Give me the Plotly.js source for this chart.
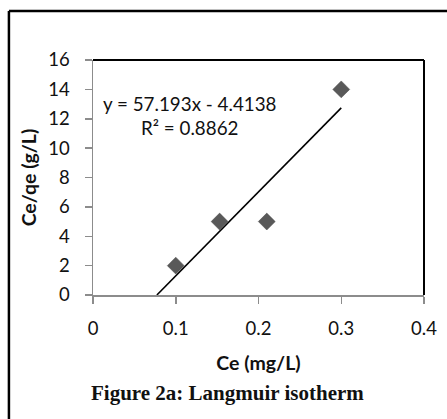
<!DOCTYPE html>
<html>
<head>
<meta charset="utf-8">
<script src="https://cdn.plot.ly/plotly-3.0.1.min.js"></script>
<style>html,body{margin:0;padding:0;background:#fff;}#chart{width:447px;height:419px;}</style>
</head>
<body>
<div id="chart"></div>
<script>
const ceValues = [0.1, 0.153, 0.21, 0.3];
const ceQeValues = [2, 5, 5, 14];
const slope = 57.193;
const intercept = -4.4138;
const trendX = [-intercept / slope, 0.3];
const trendY = trendX.map(x => slope * x + intercept);
const xTicks = [0, 0.1, 0.2, 0.3, 0.4];
const xTickLabels = ['0', '0.1', '0.2', '0.3', '0.4'];
const yTicks = [0, 2, 4, 6, 8, 10, 12, 14, 16];
const equationText = 'y = 57.193x - 4.4138';
const r2Text = 'R² = 0.8862';
const caption = 'Figure 2a: Langmuir isotherm';

const font = 'Lato, "Open Sans", sans-serif';

const traces = [
  {x: trendX, y: trendY, mode: 'lines', line: {color: '#000', width: 1.6}, hoverinfo: 'skip', showlegend: false},
  {x: ceValues, y: ceQeValues, mode: 'markers', marker: {symbol: 'diamond', size: 13, color: '#595959', line: {color: '#4a4a4a', width: 0.5}}, showlegend: false}
];

const layout = {
  width: 447, height: 419,
  margin: {l: 93, r: 23, t: 60, b: 124},
  paper_bgcolor: '#fff', plot_bgcolor: '#fff',
  font: {family: font, size: 18, color: '#111'},
  xaxis: {
    range: [0, 0.4], tickvals: xTicks, ticktext: xTickLabels,
    showgrid: false, zeroline: false, showline: true, linecolor: '#8c8c8c', linewidth: 1.5,
    ticks: 'outside', ticklen: 7, tickcolor: '#8c8c8c', tickwidth: 1.5,
    ticklabelstandoff: 9,
    tickfont: {family: font, size: 18.5, color: '#111'},
    title: {text: '<b>Ce (mg/L)</b>', font: {family: font, size: 19.5, color: '#111'}, standoff: 18}
  },
  yaxis: {
    range: [0, 16], tickvals: yTicks,
    showgrid: false, zeroline: false, showline: true, linecolor: '#8c8c8c', linewidth: 1.5,
    ticks: 'outside', ticklen: 7, tickcolor: '#8c8c8c', tickwidth: 1.5,
    ticklabelstandoff: 11,
    tickfont: {family: font, size: 18.5, color: '#111'},
    title: {text: '<b>Ce/qe (g/L)</b>', font: {family: font, size: 19.5, color: '#111'}, standoff: 6}
  },
  shapes: [
    {type: 'line', xref: 'paper', yref: 'paper', x0: 0, x1: 1, y0: 1, y1: 1, line: {color: '#000', width: 2}},
    {type: 'line', xref: 'paper', yref: 'paper', x0: 1, x1: 1, y0: 0, y1: 1, line: {color: '#000', width: 2}},
    {type: 'line', xref: 'paper', yref: 'paper', x0: -0.254, x1: 1.1, y0: 1.2085, y1: 1.2085, line: {color: '#000', width: 2.5}},
    {type: 'line', xref: 'paper', yref: 'paper', x0: -0.254, x1: -0.254, y0: 1.2085, y1: -0.6, line: {color: '#000', width: 2.5}}
  ],
  annotations: [
    {xref: 'paper', yref: 'paper', x: 0.024, y: 0.814, xanchor: 'left', yanchor: 'middle', text: equationText, showarrow: false, font: {family: font, size: 18.8, color: '#111'}},
    {xref: 'paper', yref: 'paper', x: 0.14, y: 0.712, xanchor: 'left', yanchor: 'middle', text: r2Text, showarrow: false, font: {family: font, size: 18.8, color: '#111'}},
    {xref: 'paper', yref: 'paper', x: 0.405, y: -0.418, xanchor: 'center', yanchor: 'middle', text: '<b>' + caption + '</b>', showarrow: false, font: {family: '"Liberation Serif", "Times New Roman", serif', size: 21, color: '#111'}}
  ]
};

Plotly.newPlot('chart', traces, layout, {displayModeBar: false, staticPlot: true});
</script>
</body>
</html>
